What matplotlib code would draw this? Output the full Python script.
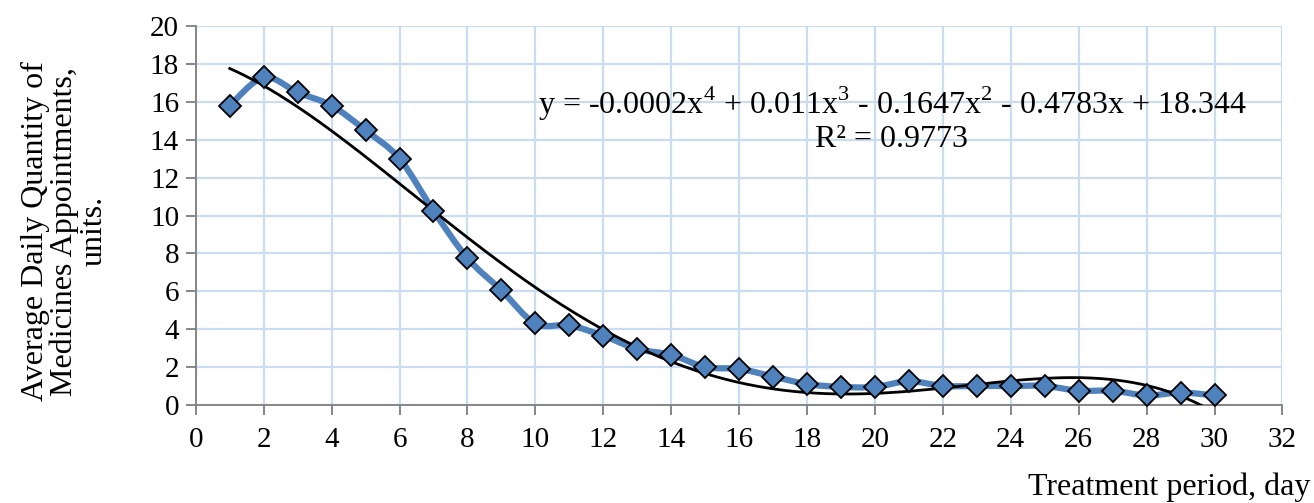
import numpy as np
import matplotlib
matplotlib.use("Agg")
import matplotlib.pyplot as plt
from matplotlib.path import Path
from matplotlib.patches import PathPatch

# --------------------------
# Datos
# --------------------------
dias = list(range(1, 31))
cantidad = [15.8, 17.3, 16.5, 15.8, 14.5, 13.0, 10.25, 7.75, 6.05, 4.3,
            4.2, 3.65, 2.95, 2.65, 2.0, 1.9, 1.5, 1.1, 0.95, 0.95,
            1.25, 1.0, 1.0, 1.0, 1.0, 0.75, 0.75, 0.5, 0.65, 0.5]

ecuacion = "y = -0.0002x$^4$ + 0.011x$^3$ - 0.1647x$^2$ - 0.4783x + 18.344"
r2_texto = "R² = 0.9773"

AZUL = "#4f81bd"
GRID = "#c9dcf1"
EJE = "#868686"

plt.rcParams["font.family"] = ["Liberation Serif", "DejaVu Serif"]
plt.rcParams["mathtext.fontset"] = "custom"
plt.rcParams["mathtext.rm"] = "Liberation Serif"


def catmull_rom_path(xs, ys, tension=0.5):
    # línea suavizada estilo Excel (Bezier cúbico)
    pts = np.column_stack([xs, ys]).astype(float)
    verts = [pts[0]]
    codes = [Path.MOVETO]
    n = len(pts)
    for i in range(n - 1):
        p0 = pts[i - 1] if i > 0 else pts[i]
        p1 = pts[i]
        p2 = pts[i + 1]
        p3 = pts[i + 2] if i + 2 < n else pts[i + 1]
        c1 = p1 + (p2 - p0) * tension / 3
        c2 = p2 - (p3 - p1) * tension / 3
        verts += [c1, c2, p2]
        codes += [Path.CURVE4] * 3
    return Path(verts, codes)


fig = plt.figure(figsize=(13.14, 5.03), dpi=100)
ax = fig.add_axes([0.149, 0.195, 0.827, 0.753])

ax.set_xlim(0, 32)
ax.set_ylim(0, 20)
ax.set_xticks(range(0, 33, 2))
ax.set_yticks(range(0, 21, 2))
ax.grid(True, color=GRID, linewidth=1.6)
ax.set_axisbelow(True)

for s in ["top", "right"]:
    ax.spines[s].set_visible(False)
for s in ["left", "bottom"]:
    ax.spines[s].set_color(EJE)
    ax.spines[s].set_linewidth(1.4)
ax.tick_params(axis="both", colors=EJE, length=7, width=1.4,
               labelsize=21, labelcolor="black", direction="out")
ax.tick_params(axis="x", pad=9)
ax.tick_params(axis="y", pad=5)

# línea suavizada
trayecto = catmull_rom_path(dias, cantidad)
ax.add_patch(PathPatch(trayecto, facecolor="none", edgecolor=AZUL,
                       linewidth=4.5, capstyle="round", joinstyle="round", zorder=3))

# línea de tendencia polinómica (grado 4)
coef = np.polyfit(dias, cantidad, 4)
xt = np.linspace(1, 30, 400)
ax.plot(xt, np.polyval(coef, xt), color="black", linewidth=2, zorder=4)

ax.plot(dias, cantidad, linestyle="none", marker="D", markersize=11.5,
        markerfacecolor=AZUL, markeredgecolor="black", markeredgewidth=1.3,
        zorder=5, clip_on=False)

ax.text(20.5, 15.9, ecuacion, fontsize=23, ha="center", va="center")
ax.text(20.5, 14.0, r2_texto, fontsize=23, ha="center", va="center")

fig.text(0.049, 0.54, "Average Daily Quantity of\nMedicines Appointments,\nunits.",
         rotation=90, ha="center", va="center", fontsize=23, linespacing=1.0)
fig.text(0.997, 0.032, "Treatment period, day", ha="right", va="center", fontsize=23)

fig.savefig("out.png", dpi=100)
